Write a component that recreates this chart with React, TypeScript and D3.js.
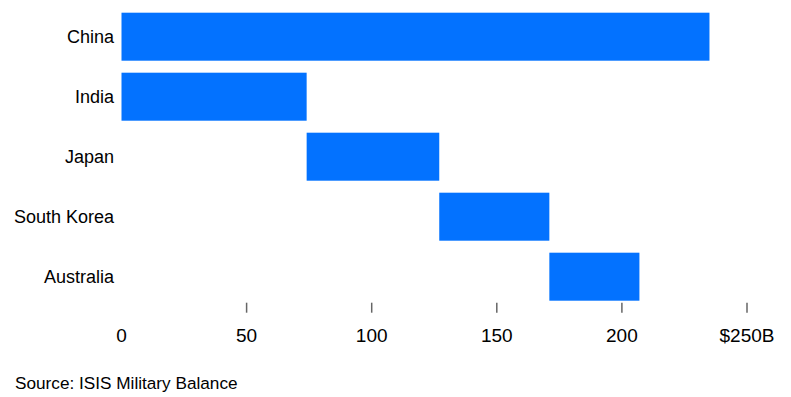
import React from "react";
import * as d3 from "d3";

const countries = ["China", "India", "Japan", "South Korea", "Australia"];
const spending = [235, 74, 53, 44, 36];
const stacked = [false, false, true, true, true];
const tickValues = [0, 50, 100, 150, 200, 250];
const tickLabels = ["0", "50", "100", "150", "200", "$250B"];
const source = "Source: ISIS Military Balance";

const W = 791;
const H = 397;
const FONT = "'Liberation Sans', Arial, Helvetica, sans-serif";

export default function App() {
  const x = d3.scaleLinear().domain([0, 250]).range([121.5, 747]);
  const y = d3
    .scaleBand<string>()
    .domain(countries)
    .range([0.7, 312.7])
    .paddingInner(0.2)
    .paddingOuter(0.2);

  let acc = 0;
  const bars = countries.map((c, i) => {
    const start = stacked[i] ? acc : 0;
    const end = start + spending[i];
    if (i > 0) acc = end;
    return { c, start, end };
  });

  return (
    <svg
      width={W}
      height={H}
      style={{ position: "absolute", left: 0, top: 0, background: "#fff" }}
      fontFamily={FONT}
    >
      {bars.map((b) => (
        <g key={b.c}>
          <rect
            x={x(b.start)}
            y={y(b.c)}
            width={x(b.end) - x(b.start)}
            height={y.bandwidth()}
            fill="#0372ff"
          />
          <text
            x={114}
            y={(y(b.c) as number) + y.bandwidth() / 2}
            dy="0.35em"
            textAnchor="end"
            fontSize={18}
            fill="#000"
          >
            {b.c}
          </text>
        </g>
      ))}
      {tickValues.map((t, i) => (
        <g key={t}>
          {t !== 0 && (
            <line
              x1={x(t)}
              x2={x(t)}
              y1={302.7}
              y2={312.7}
              stroke="#666"
              strokeWidth={1.5}
            />
          )}
          <text
            x={x(t)}
            y={341.5}
            textAnchor="middle"
            fontSize={19}
            fill="#000"
          >
            {tickLabels[i]}
          </text>
        </g>
      ))}
      <text x={15} y={388.5} fontSize={17.2} fill="#000">
        {source}
      </text>
    </svg>
  );
}
